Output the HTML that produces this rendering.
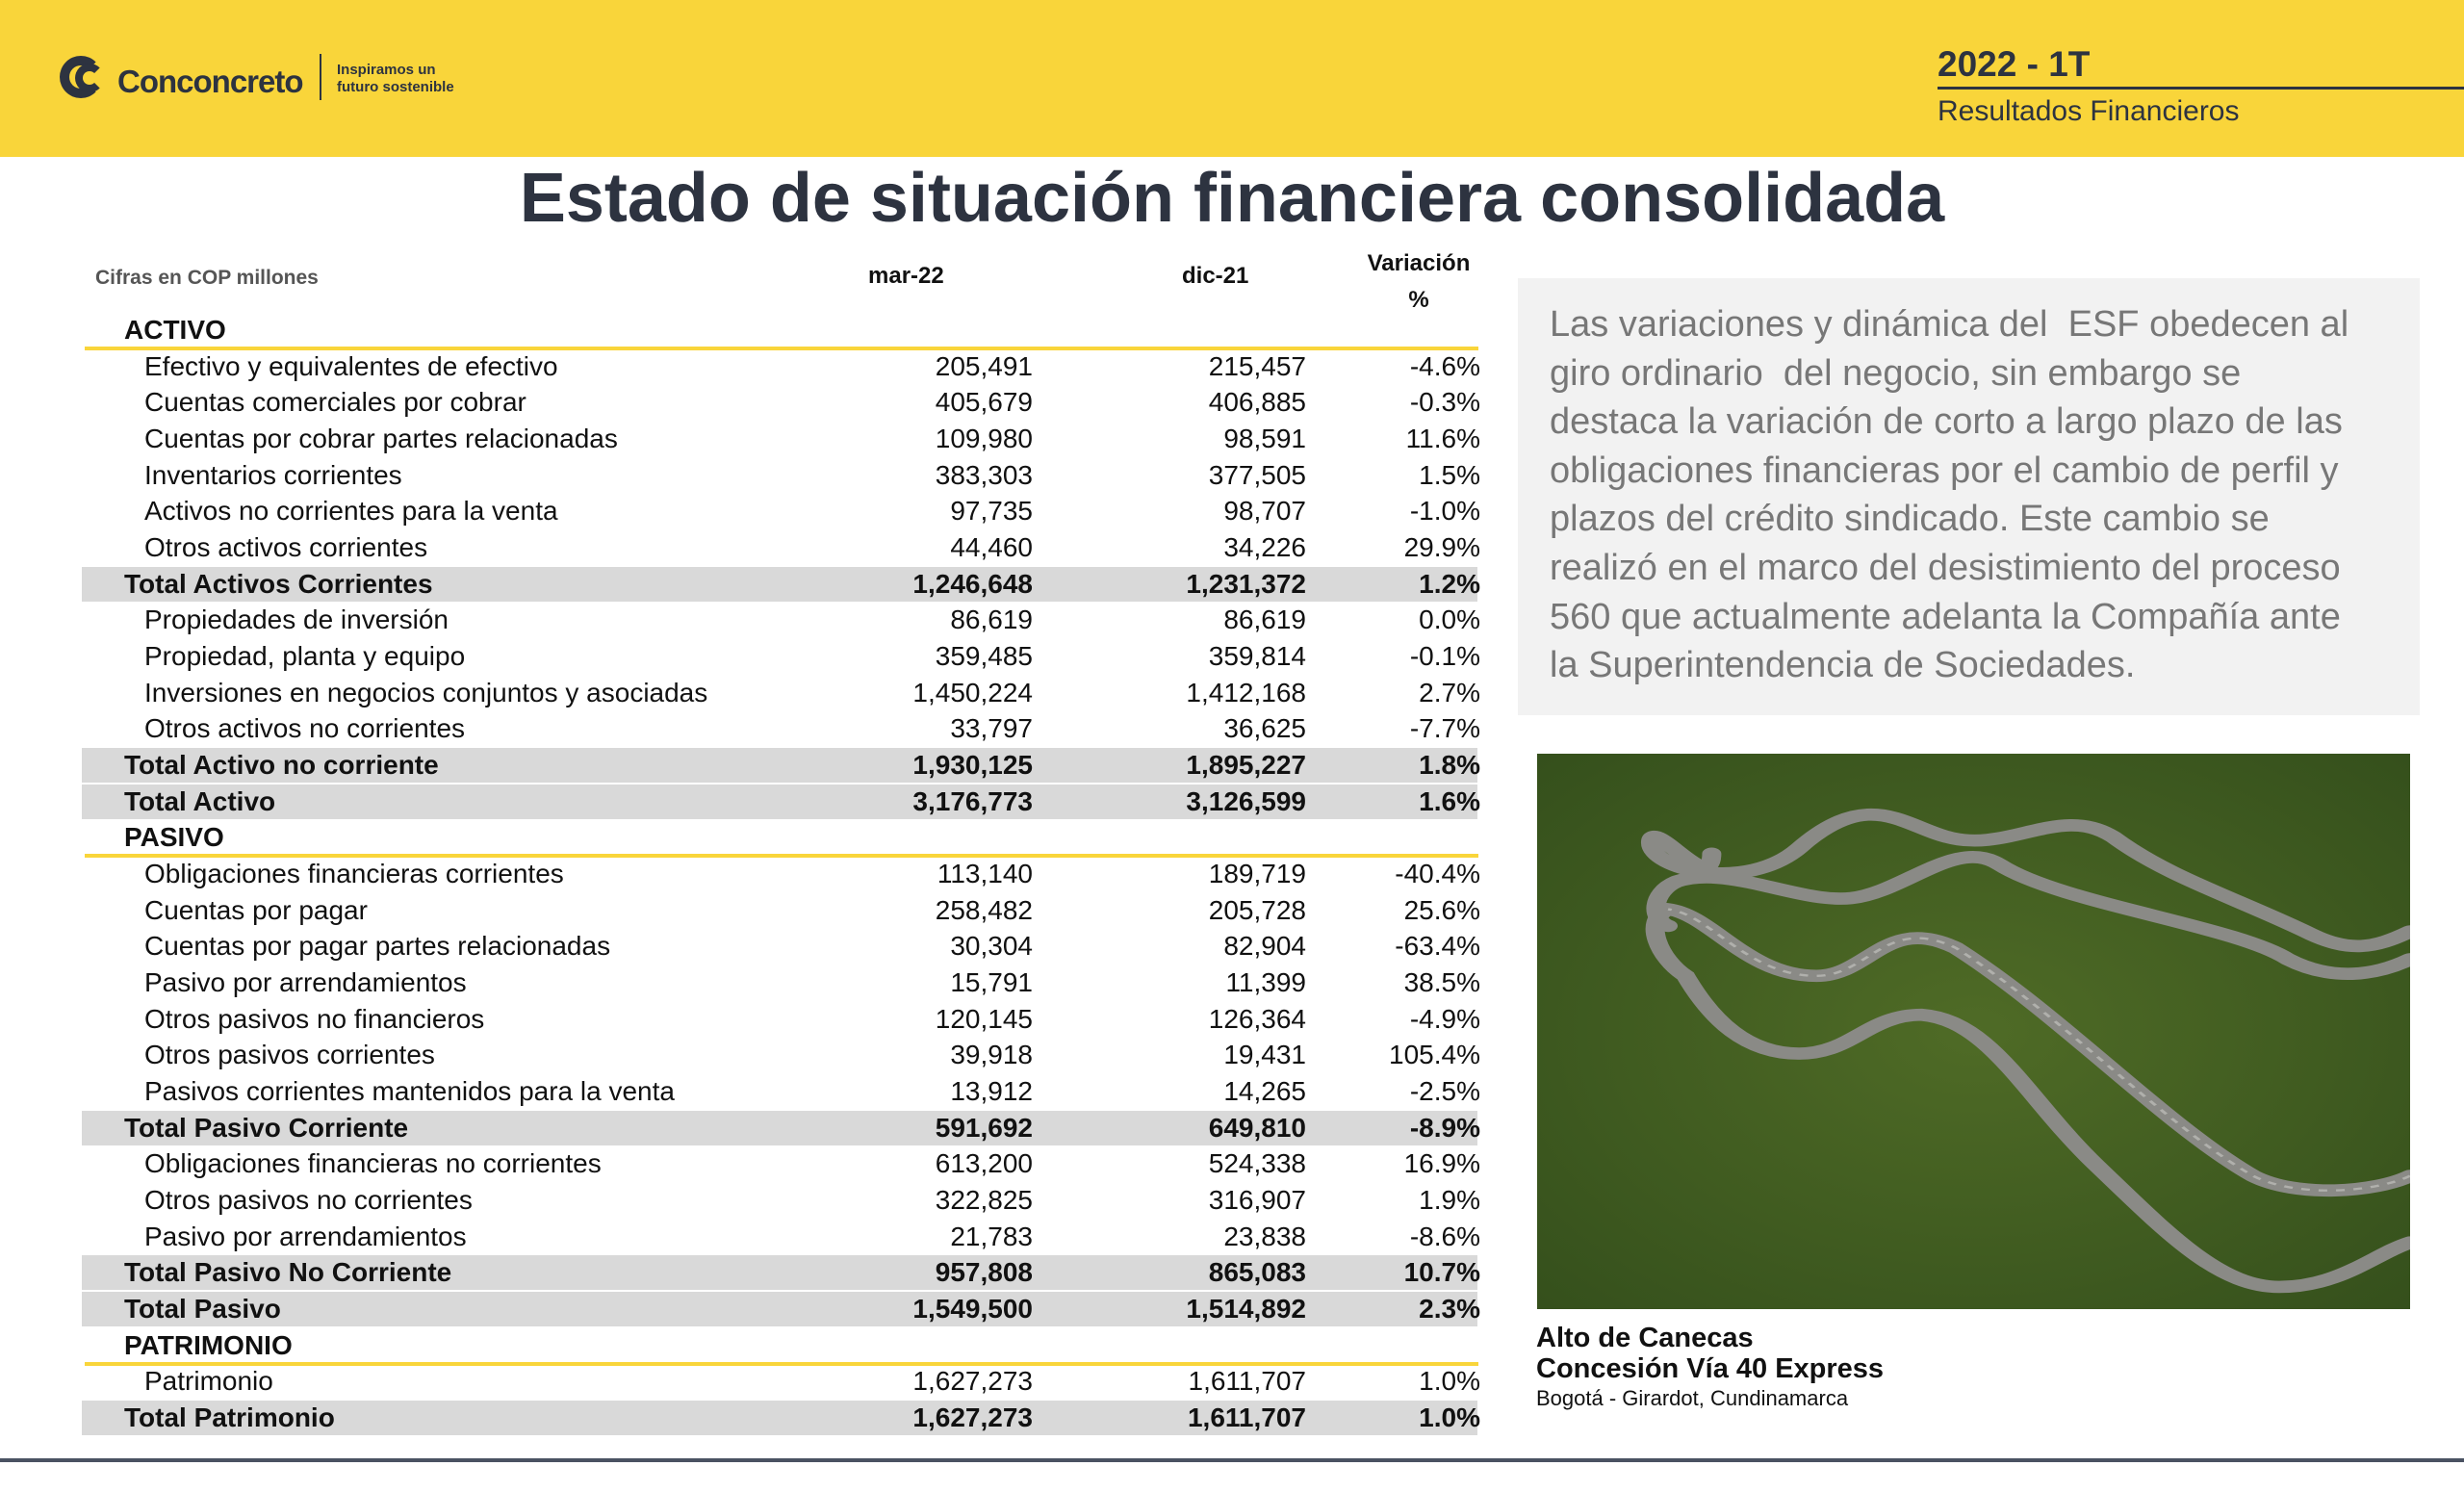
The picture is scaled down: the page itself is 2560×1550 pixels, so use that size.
<!DOCTYPE html>
<html><head><meta charset="utf-8"><style>
*{margin:0;padding:0;box-sizing:border-box}
body{width:2560px;height:1550px;background:#fff;position:relative;overflow:hidden;font-family:"Liberation Sans",sans-serif;color:#111}
.a{position:absolute;white-space:nowrap}
#hdr{left:0;top:0;width:2560px;height:163px;background:#f9d53a}
.row{position:absolute;left:85px;width:1450px;height:36px;font-size:28px;line-height:36px}
.row.t{background:#d9d9d9;font-weight:bold}
.row span{position:absolute;top:0}
</style></head><body>
<div id="hdr" class="a"></div>
<div class="a" style="left:62px;top:56px;height:50px;width:260px">
  <div class="a" style="left:0;top:2px;width:44px;height:44px;border:10px solid #2d3340;border-right-color:transparent;border-radius:50%"></div>
  <div class="a" style="left:16px;top:10px;width:30px;height:30px;border:8px solid #2d3340;border-right-color:transparent;border-radius:50%"></div>
  <div class="a" style="left:60px;top:10px;font-size:33px;font-weight:bold;color:#2d3340;letter-spacing:-1px">Conconcreto</div>
  <div class="a" style="left:270px;top:0;width:2px;height:48px;background:#2d3340"></div>
  <div class="a" style="left:288px;top:8px;font-size:15px;font-weight:bold;color:#2d3340;line-height:18px">Inspiramos un<br>futuro sostenible</div>
</div>
<div class="a" style="left:2013px;top:46px;font-size:37px;font-weight:bold;color:#2d3340">2022 - 1T</div>
<div class="a" style="left:2013px;top:90px;width:547px;height:3px;background:#2d3340"></div>
<div class="a" style="left:2013px;top:99px;font-size:30px;color:#2d3340">Resultados Financieros</div>
<div class="a" style="left:0;width:2560px;text-align:center;top:165px;font-size:72px;font-weight:bold;color:#2d3340">Estado de situación financiera consolidada</div>

<div class="a" style="left:99px;top:277px;font-size:21px;font-weight:bold;color:#555">Cifras en COP millones</div>
<div class="a" style="left:902px;top:273px;font-size:24px;font-weight:bold">mar-22</div>
<div class="a" style="left:1228px;top:273px;font-size:24px;font-weight:bold">dic-21</div>
<div class="a" style="left:1413px;top:255px;font-size:24px;font-weight:bold;text-align:center;width:122px;line-height:38px;white-space:normal">Variación<br>%</div>

<div id="tbl"></div>

<div class="a" style="left:1577px;top:289px;width:937px;height:454px;background:#f2f2f2"></div>
<div class="a" style="left:1610px;top:312px;width:845px;white-space:normal;font-size:38px;line-height:50.6px;color:#777">Las variaciones y dinámica del &nbsp;ESF obedecen al giro ordinario &nbsp;del negocio, sin embargo se destaca la variación de corto a largo plazo de las obligaciones financieras por el cambio de perfil y plazos del crédito sindicado. Este cambio se realizó en el marco del desistimiento del proceso 560 que actualmente adelanta la Compañía ante la Superintendencia de Sociedades.</div>

<svg class="a" style="left:1597px;top:783px" width="907" height="577" viewBox="0 0 1000 1000" preserveAspectRatio="none">
<defs><radialGradient id="g" cx="50%" cy="50%" r="70%"><stop offset="0" stop-color="#4f6b26"/><stop offset="1" stop-color="#35501c"/></radialGradient></defs>
<rect width="1000" height="1000" fill="url(#g)"/>
<g fill="none" stroke="#8a8a86" stroke-width="22" stroke-linecap="round">
<path d="M1000,320 C960,350 930,360 880,320 C800,260 720,220 660,150 C600,90 540,180 470,150 C420,130 380,60 300,170 C240,250 130,210 130,160 C130,110 200,260 200,180"/>
<path d="M1000,370 C960,400 910,410 860,370 C800,310 600,270 530,200 C480,150 420,250 360,260 C300,270 220,200 160,230 C130,250 130,300 150,310"/>
<path d="M1000,760 C960,790 870,800 820,760 C720,670 600,470 480,350 C400,290 380,400 320,400 C240,400 200,290 150,280 C120,300 140,370 170,400 C200,480 240,540 300,540 C360,540 380,470 440,470 C520,480 560,620 640,740 C720,860 780,960 850,960 C920,960 960,900 1000,880"/>
</g>
<g fill="none" stroke="#b0b0ac" stroke-width="4" stroke-dasharray="10 10">
<path d="M1000,760 C960,790 870,800 820,760 C720,670 600,470 480,350 C400,290 380,400 320,400 C240,400 200,290 150,280"/>
</g>
</svg>

<div class="a" style="left:1596px;top:1374px;font-size:29px;font-weight:bold;line-height:32px;color:#111">Alto de Canecas<br>Concesión Vía 40 Express</div>
<div class="a" style="left:1596px;top:1440px;font-size:22px;color:#111">Bogotá - Girardot, Cundinamarca</div>
<div class="a" style="left:0;top:1515px;width:2560px;height:4px;background:#4a5262"></div>

<script>
const labels=["ACTIVO","Efectivo y equivalentes de efectivo","Cuentas comerciales por cobrar","Cuentas por cobrar partes relacionadas","Inventarios corrientes","Activos no corrientes para la venta","Otros activos corrientes","Total Activos Corrientes","Propiedades de inversión","Propiedad, planta y equipo","Inversiones en negocios conjuntos y asociadas","Otros activos no corrientes","Total Activo no corriente","Total Activo","PASIVO","Obligaciones financieras corrientes","Cuentas por pagar","Cuentas por pagar partes relacionadas","Pasivo por arrendamientos","Otros pasivos no financieros","Otros pasivos corrientes","Pasivos corrientes mantenidos para la venta","Total Pasivo Corriente","Obligaciones financieras no corrientes","Otros pasivos no corrientes","Pasivo por arrendamientos","Total Pasivo No Corriente","Total Pasivo","PATRIMONIO","Patrimonio","Total Patrimonio"];
const kinds=["h","i","i","i","i","i","i","t","i","i","i","i","t","t","h","i","i","i","i","i","i","i","t","i","i","i","t","t","h","i","t"];
const mar22=["","205,491","405,679","109,980","383,303","97,735","44,460","1,246,648","86,619","359,485","1,450,224","33,797","1,930,125","3,176,773","","113,140","258,482","30,304","15,791","120,145","39,918","13,912","591,692","613,200","322,825","21,783","957,808","1,549,500","","1,627,273","1,627,273"];
const dic21=["","215,457","406,885","98,591","377,505","98,707","34,226","1,231,372","86,619","359,814","1,412,168","36,625","1,895,227","3,126,599","","189,719","205,728","82,904","11,399","126,364","19,431","14,265","649,810","524,338","316,907","23,838","865,083","1,514,892","","1,611,707","1,611,707"];
const varPct=["","-4.6%","-0.3%","11.6%","1.5%","-1.0%","29.9%","1.2%","0.0%","-0.1%","2.7%","-7.7%","1.8%","1.6%","","-40.4%","25.6%","-63.4%","38.5%","-4.9%","105.4%","-2.5%","-8.9%","16.9%","1.9%","-8.6%","10.7%","2.3%","","1.0%","1.0%"];
const tbl=document.getElementById('tbl');
const top0=325, pitch=37.67;
labels.forEach((lab,i)=>{
  const r=document.createElement('div');
  r.className='row '+kinds[i];
  
  
  r.style.top=(top0+i*pitch)+'px';
  const l=document.createElement('span');
  
  
  l.textContent=lab;
  l.style.left=(kinds[i]==='i'?65:44)+'px';
  if(kinds[i]==='h')l.style.fontWeight='bold';
  r.appendChild(l);
  [[mar22,1073],[dic21,1357],[varPct,1538]].forEach(([arr,rx])=>{
    const s=document.createElement('span');
    
    
    s.textContent=arr[i];
    s.style.right=(1535-rx)+'px';
    r.appendChild(s);
  });
  tbl.appendChild(r);
  if(kinds[i]==='h'){
    const u=document.createElement('div');
    u.className='a';
    
    
    u.style.cssText='left:88px;width:1448px;height:4px;background:#f9d53a;top:'+(top0+i*pitch+35)+'px';
    tbl.appendChild(u);
  }
});
</script>
</body></html>
